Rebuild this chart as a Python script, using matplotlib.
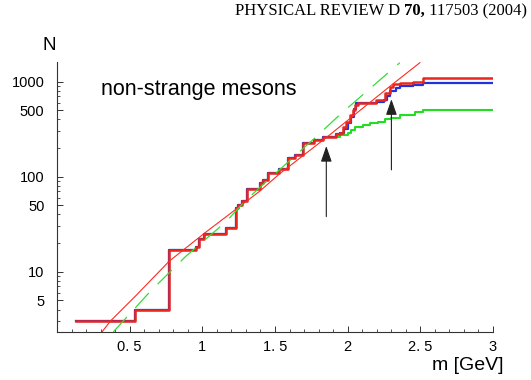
"""Cumulative number of non-strange mesons vs mass."""
import numpy as np
import matplotlib.pyplot as plt
from matplotlib.ticker import FixedLocator, NullFormatter

plt.rcParams['font.family'] = ['Liberation Sans', 'DejaVu Sans']

# step functions: mass [GeV] and cumulative count N
shared_m = [0.13, 0.54, 0.77, 0.955, 0.98, 1.01, 1.165, 1.23, 1.245, 1.27,
            1.31, 1.395, 1.42, 1.45, 1.53, 1.59, 1.635, 1.69, 1.77, 1.83]
shared_n = [3, 4, 17, 18, 22, 25, 29, 47, 50, 55,
            75, 85, 92, 110, 120, 156, 170, 225, 243, 262]

red_m = [1.922, 1.945, 1.968, 1.991, 2.014, 2.037, 2.048, 2.071, 2.198,
         2.255, 2.29, 2.312, 2.359, 2.45, 2.519]
red_n = [280, 286, 336, 379, 446, 503, 569, 594, 642,
         753, 886, 939, 961, 1000, 1087]

blue_m = [1.922, 1.945, 1.975, 2.0, 2.02, 2.045, 2.06, 2.2, 2.25,
          2.27, 2.29, 2.33, 2.36, 2.45, 2.52]
blue_n = [280, 286, 320, 370, 430, 520, 590, 610, 640,
          700, 800, 860, 890, 925, 970]

green_m = [1.945, 2.002, 2.026, 2.048, 2.106, 2.152, 2.209, 2.255, 2.301,
           2.359, 2.462, 2.519]
green_n = [275, 286, 310, 336, 350, 365, 379, 402, 412,
           446, 483, 503]

m_end = 3.0

# smooth fits
fit_red_m = [0.309, 0.37, 0.543, 0.772, 1.014, 1.393, 1.531, 1.853, 2.301, 2.497]
fit_red_n = [2.32, 3.05, 5.6, 12.9, 25.4, 70, 107, 258, 920, 1585]

fit_green_m = [0.388, 0.646, 0.888, 1.163, 1.301, 1.772, 1.957, 2.129, 2.359]
fit_green_n = [2.33, 6.3, 14.6, 33.6, 56.9, 254, 465, 785, 1585]

# arrows: (mass, tail N, head N)
arrows = [(1.853, 38, 210), (2.301, 118, 653)]

xticks = [0.5, 1, 1.5, 2, 2.5, 3]
xlabels = ['0. 5', '1', '1. 5', '2', '2. 5', '3']
yticks = [5, 10, 50, 100, 500, 1000]
ylabels = ['5', '10', '50', '100', '500', '1000']

fig = plt.figure(figsize=(5.31, 3.80), dpi=100)
ax = fig.add_axes([57 / 531, 1 - 332 / 380, 436 / 531, 270 / 380])


def step_line(m, n, **kw):
    x = list(m) + [m_end]
    y = list(n) + [n[-1]]
    ax.step(x, y, where='post', **kw)


step_line(shared_m + green_m, shared_n + green_n, color='#22dd22', lw=1.5)
step_line(shared_m + blue_m, shared_n + blue_n, color='#2233dd', lw=1.6)
step_line(shared_m + red_m, shared_n + red_n, color='#e8261c', lw=1.8)

ax.plot(fit_red_m, fit_red_n, color='#ff2a20', lw=0.8)
ax.plot(fit_green_m, fit_green_n, color='#33dd33', lw=0.9, dashes=(16, 10))

for xm, y0, y1 in arrows:
    ax.annotate('', xy=(xm, y1), xytext=(xm, y0),
                arrowprops=dict(arrowstyle='-|>,head_length=0.8,head_width=0.28',
                                color='#222222', lw=0.8, mutation_scale=12,
                                shrinkA=0, shrinkB=0))

ax.set_xlim(0, 3)
ax.set_yscale('log')
ax.set_ylim(2.319, 1611)

ax.set_xticks(xticks)
ax.set_xticklabels(xlabels)
ax.xaxis.set_minor_locator(FixedLocator(np.arange(1, 30) / 10))
ax.set_yticks(yticks)
ax.set_yticklabels(ylabels)
minor_y = [k * 10 ** e for e in range(0, 4) for k in range(2, 10)]
ax.yaxis.set_minor_locator(FixedLocator(minor_y))
ax.yaxis.set_minor_formatter(NullFormatter())

ax.tick_params(which='both', direction='in', labelsize=10.5, color='#333333')
ax.tick_params(which='major', length=4.5, width=0.7)
ax.tick_params(which='minor', length=2.5, width=0.6)
ax.tick_params(axis='x', pad=6)
ax.tick_params(axis='y', pad=9)

for side in ['top', 'right']:
    ax.spines[side].set_visible(False)
for side in ['left', 'bottom']:
    ax.spines[side].set_color('#333333')
    ax.spines[side].set_linewidth(0.8)

ax.text(0.1, 0.9, 'non-strange mesons', fontsize=15.5,
        transform=ax.transAxes, va='center')
fig.text(49 / 531, 1 - 45 / 380, 'N', fontsize=13.5, ha='center', va='center')
fig.text(504 / 531, 1 - 366 / 380, 'm [GeV]', fontsize=14, ha='right',
         va='center')

# journal header, built right to left so it ends at the right margin
hdr = dict(fontsize=12, family='Liberation Serif', va='bottom', ha='right')
t3 = fig.text(527 / 531, 1 - 19 / 380, ' 117503 (2004)', **hdr)
t2 = ax.annotate('70,', xy=(0, 0), xycoords=t3, weight='bold', **hdr)
ax.annotate('PHYSICAL REVIEW D ', xy=(0, 0), xycoords=t2, **hdr)

fig.savefig('out.png', dpi=100)
